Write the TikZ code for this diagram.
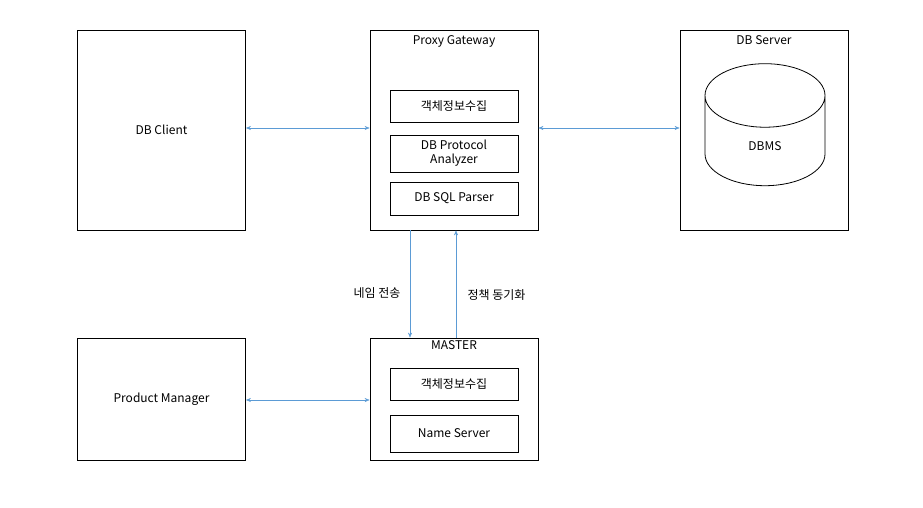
\documentclass[tikz,border=0pt]{standalone}
\usepackage{fontspec}
\setmainfont{Noto Sans CJK KR}
\usetikzlibrary{arrows.meta,shapes.geometric}
\definecolor{linkblue}{RGB}{91,155,213}
\tikzset{
 box/.style={draw,thick,minimum width=168pt,align=center},
 sub/.style={draw,thick,minimum width=128pt,align=center},
 title/.style={anchor=north,inner sep=6pt},
 link/.style={linkblue,{Stealth[length=5pt,width=4pt]}-{Stealth[length=5pt,width=4pt]}},
 flow/.style={linkblue,-{Stealth[length=5pt,width=4pt]}}
}
\begin{document}
\begin{tikzpicture}[x=1pt,y=-1pt,font=\fontsize{12}{13}\selectfont]
\useasboundingbox (0,0) rectangle (923,508);
% top row
\node[box,minimum height=200pt] (client) at (161.5,130) {DB Client};
\node[box,minimum height=200pt] (proxy) at (454,130) {};
\node[title] at (proxy.north) {Proxy Gateway};
\node[box,minimum height=200pt] (server) at (764,130) {};
\node[title] at (server.north) {DB Server};
\node[sub,minimum height=32pt] (collect) at (454,106) {객체정보수집};
\node[sub,minimum height=37pt,inner sep=1pt,font=\fontsize{12}{14}\selectfont] (analyzer) at (454,153.5) {DB Protocol\\Analyzer};
\node[sub,minimum height=33pt] (parser) at (454,198.5) {DB SQL Parser};
\node[cylinder,shape border rotate=90,draw,thick,minimum width=120pt,minimum height=122pt,aspect=1.6] (dbms) at (765,146) {DBMS};
% bottom row
\node[box,minimum height=122pt] (manager) at (161.5,399) {Product Manager};
\node[box,minimum height=122pt] (master) at (454,399) {};
\node[title,inner sep=3pt] at (master.north) {MASTER};
\node[sub,minimum height=32pt] (mcollect) at (454,384) {객체정보수집};
\node[sub,minimum height=37pt] (names) at (454,433.5) {Name Server};
% links
\draw[link] (client.east |- 0,128) -- (proxy.west |- 0,128);
\draw[link] (proxy.east |- 0,128) -- (server.west |- 0,128);
\draw[link] (manager.east |- 0,400) -- (master.west |- 0,400);
\draw[flow] (proxy.south -| 410,0) -- (master.north -| 410,0) node[pos=0.58,left=6pt,text=black] {네임 전송};
\draw[flow] (master.north -| 456,0) -- (proxy.south -| 456,0) node[pos=0.4,right=8pt,text=black] {정책 동기화};
\end{tikzpicture}
\end{document}
